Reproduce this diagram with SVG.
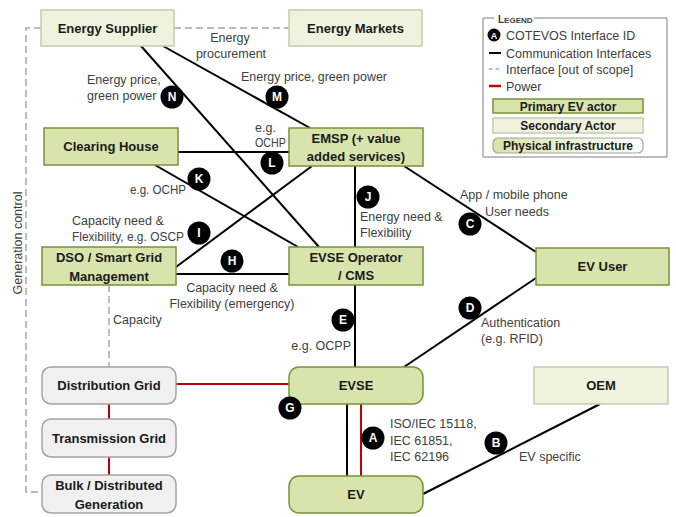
<svg xmlns="http://www.w3.org/2000/svg" width="676" height="517" viewBox="0 0 676 517">
  <defs>
    <linearGradient id="infraGrad" x1="0" y1="0" x2="1" y2="0">
      <stop offset="0" stop-color="#d6e3a6"/>
      <stop offset="1" stop-color="#ffffff"/>
    </linearGradient>
    <style>
      text { font-family: "Liberation Sans", Arial, sans-serif; }
      .primary { fill: #d8e4ab; stroke: #77933c; stroke-width: 1.5; }
      .secondary { fill: #eff3de; stroke: #c5cbb3; stroke-width: 1.5; }
      .infra { fill: #f0f0f0; stroke: #a3a3a3; stroke-width: 1.5; }
      .nlabel { font-size: 13px; font-weight: bold; fill: #1a1a1a; text-anchor: middle; }
      .comm { stroke: #000000; stroke-width: 2; fill: none; }
      .power { stroke: #c00000; stroke-width: 2; fill: none; }
      .oos { stroke: #a6a6a6; stroke-width: 1.5; stroke-dasharray: 7 4; fill: none; }
      .lbl { font-size: 12.5px; fill: #404040; }
      .badge circle { fill: #000000; }
      .badge text { font-size: 12px; font-weight: bold; fill: #ffffff; text-anchor: middle; }
      .lg { font-size: 12.5px; fill: #404040; }
      .lgbox { font-size: 12px; font-weight: bold; fill: #1a1a1a; text-anchor: middle; }
    </style>
  </defs>
  <rect x="0" y="0" width="676" height="517" fill="#ffffff"/>

  <!-- connectors -->
  <g id="connectors">
    <!-- out of scope interfaces -->
    <line class="oos" x1="174" y1="28" x2="289" y2="28"/>
    <path class="oos" d="M41,28 H26 V492 H42"/>
    <line class="oos" x1="109" y1="285" x2="109" y2="367"/>
    <!-- communication interfaces -->
    <line class="comm" x1="163" y1="46" x2="310" y2="128"/>
    <line class="comm" x1="141" y1="46" x2="319" y2="247"/>
    <line class="comm" x1="178" y1="152" x2="289" y2="152"/>
    <line class="comm" x1="155" y1="165" x2="298" y2="247"/>
    <line class="comm" x1="176" y1="267" x2="312" y2="166"/>
    <line class="comm" x1="176" y1="274" x2="289" y2="274"/>
    <line class="comm" x1="355" y1="166" x2="355" y2="247"/>
    <line class="comm" x1="355" y1="285" x2="355" y2="367"/>
    <line class="comm" x1="404" y1="166" x2="536" y2="252"/>
    <line class="comm" x1="536" y1="278" x2="404" y2="367"/>
    <line class="comm" x1="347" y1="404" x2="347" y2="476"/>
    <line class="comm" x1="423" y1="494" x2="600" y2="404"/>
    <!-- power -->
    <line class="power" x1="176" y1="384" x2="289" y2="384"/>
    <line class="power" x1="361" y1="404" x2="361" y2="476"/>
    <line class="power" x1="109" y1="404" x2="109" y2="419"/>
    <line class="power" x1="109" y1="457" x2="109" y2="475"/>
  </g>

  <!-- nodes -->
  <g id="energy-supplier">
    <rect class="secondary" x="41" y="10" width="133" height="36"/>
    <text class="nlabel" x="107.5" y="33">Energy Supplier</text>
  </g>
  <g id="energy-markets">
    <rect class="secondary" x="289" y="10" width="133" height="36"/>
    <text class="nlabel" x="355.5" y="33">Energy Markets</text>
  </g>
  <g id="clearing-house">
    <rect class="primary" x="44" y="128" width="134" height="37"/>
    <text class="nlabel" x="111" y="151">Clearing House</text>
  </g>
  <g id="emsp">
    <rect class="primary" x="289" y="128" width="134" height="38"/>
    <text class="nlabel" x="356" y="142.5">EMSP (+ value</text>
    <text class="nlabel" x="356" y="161">added services)</text>
  </g>
  <g id="dso">
    <rect class="primary" x="42" y="247" width="134" height="38"/>
    <text class="nlabel" x="109" y="261.5">DSO / Smart Grid</text>
    <text class="nlabel" x="109" y="280.5">Management</text>
  </g>
  <g id="evse-operator">
    <rect class="primary" x="289" y="247" width="134" height="38"/>
    <text class="nlabel" x="356" y="261.5">EVSE Operator</text>
    <text class="nlabel" x="356" y="280">/ CMS</text>
  </g>
  <g id="ev-user">
    <rect class="primary" x="536" y="248" width="133" height="37"/>
    <text class="nlabel" x="602.5" y="271">EV User</text>
  </g>
  <g id="distribution-grid">
    <rect class="infra" x="42" y="367" width="134" height="37" rx="9"/>
    <text class="nlabel" x="109" y="390">Distribution Grid</text>
  </g>
  <g id="transmission-grid">
    <rect class="infra" x="42" y="419" width="134" height="38" rx="9"/>
    <text class="nlabel" x="109" y="442.5">Transmission Grid</text>
  </g>
  <g id="bulk-generation">
    <rect class="infra" x="42" y="475" width="134" height="38" rx="9"/>
    <text class="nlabel" x="109" y="489.5">Bulk / Distributed</text>
    <text class="nlabel" x="109" y="508.5">Generation</text>
  </g>
  <g id="evse">
    <rect class="primary" x="289" y="367" width="134" height="37" rx="10"/>
    <text class="nlabel" x="356" y="390">EVSE</text>
  </g>
  <g id="ev">
    <rect class="primary" x="289" y="476" width="134" height="37" rx="10"/>
    <text class="nlabel" x="356" y="499">EV</text>
  </g>
  <g id="oem">
    <rect class="secondary" x="534" y="367" width="134" height="37"/>
    <text class="nlabel" x="601" y="390">OEM</text>
  </g>

  <!-- connector labels and interface badges -->
  <g id="connector-labels">
    <text class="lbl" x="230" y="41.5" text-anchor="middle">Energy</text>
    <text class="lbl" x="231" y="57.5" text-anchor="middle">procurement</text>
    <text class="lbl" x="241" y="81" textLength="146" lengthAdjust="spacingAndGlyphs">Energy price, green power</text>
    <text class="lbl" x="87" y="83.5">Energy price,</text>
    <text class="lbl" x="87" y="100">green power</text>
    <text class="lbl" x="255" y="131.5">e.g.</text>
    <text class="lbl" x="255" y="147" textLength="31" lengthAdjust="spacingAndGlyphs">OCHP</text>
    <text class="lbl" x="130" y="193.5" textLength="56" lengthAdjust="spacingAndGlyphs">e.g. OCHP</text>
    <text class="lbl" x="72" y="224.5">Capacity need &amp;</text>
    <text class="lbl" x="72" y="241" textLength="112" lengthAdjust="spacingAndGlyphs">Flexibility, e.g. OSCP</text>
    <text class="lbl" x="232" y="291.5" text-anchor="middle">Capacity need &amp;</text>
    <text class="lbl" x="232" y="307.5" text-anchor="middle">Flexibility (emergency)</text>
    <text class="lbl" x="360" y="220.5">Energy need &amp;</text>
    <text class="lbl" x="360" y="236.5">Flexibility</text>
    <text class="lbl" x="460" y="198.5">App / mobile phone</text>
    <text class="lbl" x="485" y="215.5">User needs</text>
    <text class="lbl" x="481" y="326.5">Authentication</text>
    <text class="lbl" x="481" y="342.5">(e.g. RFID)</text>
    <text class="lbl" x="351" y="349.5" text-anchor="end">e.g. OCPP</text>
    <text class="lbl" x="113" y="323.5">Capacity</text>
    <text class="lbl" x="390" y="428">ISO/IEC 15118,</text>
    <text class="lbl" x="390" y="444.5">IEC 61851,</text>
    <text class="lbl" x="390" y="461">IEC 62196</text>
    <text class="lbl" x="519" y="460.5">EV specific</text>
    <text class="lbl" transform="translate(21.5,243) rotate(-90)" text-anchor="middle">Generation control</text>

    <g class="badge"><circle cx="277" cy="97" r="11.5"/><text x="277" y="101.3">M</text></g>
    <g class="badge"><circle cx="172" cy="97" r="11.5"/><text x="172" y="101.3">N</text></g>
    <g class="badge"><circle cx="272" cy="163" r="11.5"/><text x="272" y="167.3">L</text></g>
    <g class="badge"><circle cx="199" cy="179" r="11.5"/><text x="199" y="183.3">K</text></g>
    <g class="badge"><circle cx="199" cy="233" r="11.5"/><text x="199" y="237.3">I</text></g>
    <g class="badge"><circle cx="232" cy="261" r="11.5"/><text x="232" y="265.3">H</text></g>
    <g class="badge"><circle cx="368" cy="197" r="11.5"/><text x="368" y="201.3">J</text></g>
    <g class="badge"><circle cx="470" cy="224" r="11.5"/><text x="470" y="228.3">C</text></g>
    <g class="badge"><circle cx="470" cy="308" r="11.5"/><text x="470" y="312.3">D</text></g>
    <g class="badge"><circle cx="343" cy="320" r="11.5"/><text x="343" y="324.3">E</text></g>
    <g class="badge"><circle cx="290" cy="408" r="11.5"/><text x="290" y="412.3">G</text></g>
    <g class="badge"><circle cx="373" cy="438" r="11.5"/><text x="373" y="442.3">A</text></g>
    <g class="badge"><circle cx="496" cy="443" r="11.5"/><text x="496" y="447.3">B</text></g>
  </g>

  <!-- legend -->
  <g id="legend">
    <path d="M534,18 H667 V157 H483 V18 H494" fill="none" stroke="#7f7f7f" stroke-width="1"/>
    <text x="498" y="22.5" font-weight="bold" fill="#404040"><tspan font-size="10">L</tspan><tspan font-size="8">EGEND</tspan></text>
    <g class="badge"><circle cx="494" cy="35" r="6.5"/><text x="494" y="38.5" style="font-size:9px">A</text></g>
    <text class="lg" x="506" y="40">COTEVOS Interface ID</text>
    <line x1="489" y1="53" x2="501" y2="53" stroke="#000000" stroke-width="2"/>
    <text class="lg" x="506" y="57.5">Communication Interfaces</text>
    <line x1="489" y1="69" x2="501" y2="69" stroke="#a6a6a6" stroke-width="1.5" stroke-dasharray="3.5 3"/>
    <text class="lg" x="506" y="74">Interface [out of scope]</text>
    <line x1="489" y1="86" x2="501" y2="86" stroke="#c00000" stroke-width="2.5"/>
    <text class="lg" x="506" y="90.5">Power</text>
    <rect class="primary" x="493" y="99" width="150" height="14"/>
    <text class="lgbox" x="568" y="110.5">Primary EV actor</text>
    <rect class="secondary" x="493" y="118" width="150" height="15"/>
    <text class="lgbox" x="568" y="130">Secondary Actor</text>
    <rect x="493" y="138" width="150" height="15" rx="5" fill="url(#infraGrad)" stroke="#a3a3a3" stroke-width="1.2"/>
    <text class="lgbox" x="568" y="150">Physical infrastructure</text>
  </g>
</svg>
